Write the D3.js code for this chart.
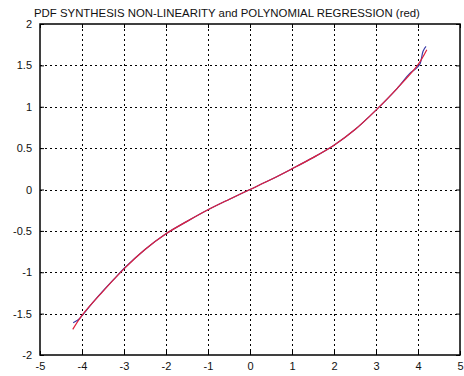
<!DOCTYPE html>
<html>
<head>
<meta charset="utf-8">
<script src="https://cdn.jsdelivr.net/npm/d3@7"></script>
<style>
  body { margin: 0; background: #fff; }
  svg text { font-family: "Liberation Sans", Arial, sans-serif; fill: #111; }
</style>
</head>
<body>
<div id="display"></div>
<script>
// ---- data ----
var title = "PDF SYNTHESIS NON-LINEARITY and POLYNOMIAL REGRESSION (red)";

var x_ticks = [-5, -4, -3, -2, -1, 0, 1, 2, 3, 4, 5];
var y_ticks = [-2, -1.5, -1, -0.5, 0, 0.5, 1, 1.5, 2];

// measured curve (blue)
var data_x = [-4.21, -4.09, -4.0, -3.75, -3.5, -3.25, -3.0, -2.5, -2.0, -1.5, -1.0, -0.5, 0, 0.5, 1.0, 1.5, 2.0, 2.5, 3.0, 3.5, 3.8, 3.95, 4.05, 4.12, 4.19];
var data_y = [-1.61, -1.575, -1.525, -1.37, -1.225, -1.09, -0.955, -0.725, -0.535, -0.385, -0.245, -0.12, 0, 0.12, 0.25, 0.385, 0.535, 0.725, 0.96, 1.22, 1.40, 1.46, 1.52, 1.67, 1.73];

// polynomial regression (red)
var fit_x = [-4.22, -4.0, -3.5, -3.0, -2.5, -2.0, -1.5, -1.0, -0.5, 0, 0.5, 1.0, 1.5, 2.0, 2.5, 3.0, 3.5, 4.0, 4.21];
var fit_y = [-1.69, -1.52, -1.23, -0.96, -0.725, -0.535, -0.385, -0.245, -0.12, 0, 0.12, 0.25, 0.385, 0.535, 0.725, 0.96, 1.22, 1.51, 1.69];

// ---- layout ----
var W = 464, H = 376;
var m_left = 40, m_right = 460, m_top = 24, m_bottom = 355;

var svg = d3.select("#display").append("svg")
  .attr("width", W).attr("height", H);

var x = d3.scaleLinear().domain([-5, 5]).range([m_left, m_right]);
var y = d3.scaleLinear().domain([-2, 2]).range([m_bottom, m_top]);

function fmt(d) { return String(d); }  // plain hyphen minus like the original

// grid
var grid = svg.append("g")
  .attr("stroke", "#000")
  .attr("stroke-width", 1)
  .attr("stroke-dasharray", "2,3");

grid.selectAll("line.vx")
  .data(x_ticks.slice(1, -1))
  .enter().append("line")
  .attr("x1", function(d){ return Math.round(x(d)) + 0.5; })
  .attr("x2", function(d){ return Math.round(x(d)) + 0.5; })
  .attr("y1", m_top).attr("y2", m_bottom);

grid.selectAll("line.hy")
  .data(y_ticks.slice(1, -1))
  .enter().append("line")
  .attr("y1", function(d){ return Math.round(y(d)) + 0.5; })
  .attr("y2", function(d){ return Math.round(y(d)) + 0.5; })
  .attr("x1", m_left).attr("x2", m_right);

// axes, ticks inward
var xb = svg.append("g").attr("transform", "translate(0," + m_bottom + ")")
  .call(d3.axisBottom(x).tickValues(x_ticks).tickSizeInner(-4).tickSizeOuter(0).tickPadding(7).tickFormat(fmt));
var xt = svg.append("g").attr("transform", "translate(0," + m_top + ")")
  .call(d3.axisTop(x).tickValues(x_ticks).tickSizeInner(-4).tickSizeOuter(0).tickFormat(""));
var yl = svg.append("g").attr("transform", "translate(" + m_left + ",0)")
  .call(d3.axisLeft(y).tickValues(y_ticks).tickSizeInner(-4).tickSizeOuter(0).tickPadding(8).tickFormat(fmt));
var yr = svg.append("g").attr("transform", "translate(" + m_right + ",0)")
  .call(d3.axisRight(y).tickValues(y_ticks).tickSizeInner(-4).tickSizeOuter(0).tickFormat(""));

[xb, xt, yl, yr].forEach(function(g){
  g.select(".domain").remove();
  g.selectAll(".tick line").attr("stroke", "#000");
  g.selectAll("text").style("font-size", "11px").attr("fill", "#111");
});

svg.append("rect")
  .attr("x", m_left).attr("y", m_top)
  .attr("width", m_right - m_left).attr("height", m_bottom - m_top)
  .attr("fill", "none").attr("stroke", "#000").attr("stroke-width", 1.5);

// curves
var line = d3.line()
  .x(function(d){ return x(d[0]); })
  .y(function(d){ return y(d[1]); })
  .curve(d3.curveCatmullRom);

svg.append("path")
  .datum(d3.zip(data_x, data_y))
  .attr("d", line)
  .attr("fill", "none").attr("stroke", "#3a3aa8").attr("stroke-width", 1.2);

svg.append("path")
  .datum(d3.zip(fit_x, fit_y))
  .attr("d", line)
  .attr("fill", "none").attr("stroke", "#e0203c").attr("stroke-width", 1.2);

// title
svg.append("text")
  .attr("x", 34).attr("y", 17)
  .style("font-size", "11.4px")
  .text(title);
</script>
</body>
</html>
